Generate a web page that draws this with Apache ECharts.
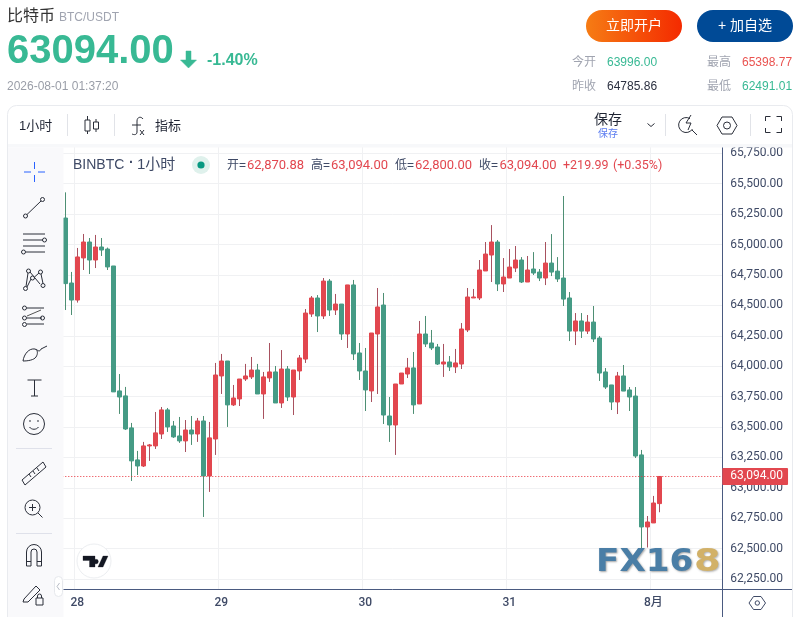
<!DOCTYPE html>
<html><head><meta charset="utf-8">
<style>html,body{margin:0;padding:0;background:#fff;overflow:hidden}#c{width:801px;height:617px}</style>
<script src="https://cdn.jsdelivr.net/npm/echarts@6/dist/echarts.min.js"></script>
</head><body><div id="c"></div>
<script>
// 100 hourly candles
const opens=[65218,64684,64544,64890,65021,64873,64980,64963,64824,63797,63756,63493,63230,63180,63345,63345,63443,63641,63509,63427,63386,63476,63443,63550,63098,63402,63920,64043,63682,63731,63895,63912,63969,63772,63904,63953,63698,63977,63747,63961,64059,64429,64561,64413,64700,64462,64511,64265,64668,64109,63961,63797,64265,64503,63591,63517,63854,63936,63986,63690,64265,64191,64158,64018,64035,63994,64018,64298,64561,64561,64783,64914,65021,64676,64725,64807,64873,64692,64799,64774,64725,64848,64782,64725,64561,64289,64372,64289,64363,64232,63953,63846,63706,63920,63805,63755,63271,62679,62712,62870.88];
const closes=[64679,64544,64898,65021,64873,64980,64955,64816,63789,63747,63484,63222,63180,63345,63353,63452,63641,63501,63419,63386,63476,63443,63550,63098,63411,63928,64043,63682,63739,63895,63920,63969,63772,63912,63953,63698,63977,63747,63969,64068,64437,64561,64413,64700,64462,64511,64265,64668,64101,63961,63805,64273,64487,63599,63517,63854,63944,63986,63682,64265,64183,64150,64018,64035,63994,64027,64306,64569,64569,64791,64922,65021,64676,64733,64815,64873,64692,64791,64766,64725,64848,64774,64717,64552,64289,64372,64289,64363,64224,63944,63829,63706,63920,63796,63747,63262,62679,62720,62876,63094];
const lows=[64462,64421,64523,64791,64758,64807,64906,64791,63789,63608,63476,63057,63106,63172,63222,63320,63402,63460,63411,63370,63295,63353,63378,62761,62967,63271,63772,63501,63673,63673,63879,63895,63772,63567,63871,63698,63657,63714,63599,63887,64027,64405,64281,64388,64413,64421,64216,64150,64051,63887,63632,63706,63772,63525,63378,63271,63854,63903,63608,63690,64158,64133,64010,63912,63961,63944,63977,64281,64561,64544,64783,64692,64618,64610,64725,64774,64684,64692,64750,64700,64667,64741,64692,64495,64207,64174,64232,64265,64199,63879,63813,63640,63607,63796,63632,63246,62491,62510,62712,62800];
const highs=[65429,64775,64972,65087,65054,65079,65054,64975,64824,63936,63830,63534,63304,63378,63361,63624,63665,63657,63550,63583,63558,63591,63575,63591,63542,64027,64101,64043,63846,63895,64019,64076,64019,63953,64191,64002,64133,64002,63969,64092,64470,64577,64585,64725,64717,64594,64511,64668,64709,64191,64150,64273,64643,64602,63747,63854,63944,64068,64117,64372,64413,64298,64183,64183,64084,64142,64355,64643,64635,64873,65021,65160,65037,64889,64963,64988,64897,64906,64938,64799,65021,65086,64897,65399,64610,64437,64437,64421,64495,64248,63985,63846,63953,64010,63829,63829,63312,62769,62934,63094];
const priceTicks=[65750,65500,65250,65000,64750,64500,64250,64000,63750,63500,63250,63000,62750,62500,62250];
const dayLabels={2:'28',26:'29',50:'30',74:'31',98:'8月'};
const lastPrice=63094;
const slots=110;
const categories=Array.from({length:slots},(_,i)=>dayLabels[i]||'');

const CJK='"Liberation Sans","Noto Sans CJK SC",sans-serif';
const RBT='Roboto,"Noto Sans CJK SC",sans-serif';
const RED='#e2474f',GREEN='#459b85',TEAL='#38b994',INK='#3f4a66';
const fmt=v=>v.toLocaleString('en-US',{minimumFractionDigits:2,maximumFractionDigits:2});
const T=(x,y,text,size,fill,fam,align)=>({type:'text',z:20,style:{x,y,text,fill,font:size+'px '+(fam||CJK),textVerticalAlign:'middle',textAlign:align||'left'}});
let iconId=0;
const P=(d,stroke,lw,fill)=>{const name='ic'+(++iconId);echarts.graphic.registerShape(name,echarts.graphic.extendPath(d,{}));return {type:name,z:20,style:{stroke:stroke||'#2a2e39',lineWidth:lw||1,fill:fill||'none'}};};
const C=(x,y,r)=>`M${x-r} ${y}A${r} ${r} 0 1 0 ${x+r} ${y}A${r} ${r} 0 1 0 ${x-r} ${y}Z`;
const R=(x,y,w,h,fill,r,stroke)=>({type:'rect',z:19,shape:{x,y,width:w,height:h,r:r||0},style:{fill:fill||'none',stroke:stroke||null,lineWidth:1}});
const L=(x1,y1,x2,y2,c)=>({type:'line',z:20,shape:{x1,y1,x2,y2},style:{stroke:c,lineWidth:1}});
const G=echarts.graphic.LinearGradient;

const ink='#2a2e39';
const chrome=[
 // panels
 R(7.5,105.5,785,540,'none',9,'#e9ebef'),
 R(8,144,784,3.5,'#f7f8fa'),
 R(8,147.5,55.5,469.5,'#f9f9fb'),
 // header
 T(7,17,'比特币',16,'#333'),
 T(59,18,'BTC/USDT',12,'#a0a4b0'),
 T(7,52,'63094.00','bold 40',TEAL),
 P('M186 51h5v9h5.5l-8 8-8-8h5.5z',TEAL,0.5,TEAL),
 T(207,61,'-1.40%','bold 16',TEAL),
 T(7,87,'2026-08-01 01:37:20',12,'#9a9ea8'),
 {type:'rect',z:19,shape:{x:586,y:10,width:96,height:32,r:16},style:{fill:new G(0,0,1,0,[{offset:0,color:'#f67c14'},{offset:1,color:'#f42a00'}])}},
 T(634,26,'立即开户',14,'#fff',CJK,'center'),
 R(697,10,96,32,'#004a96',16),
 T(745,26,'+ 加自选',14,'#fff',CJK,'center'),
 T(572,63,'今开',12,'#a0a4b0'),T(607,63,'63996.00',12,TEAL),
 T(707,63,'最高',12,'#a0a4b0'),T(742,63,'65398.77',12,'#ea5350'),
 T(572,87,'昨收',12,'#a0a4b0'),T(607,87,'64785.86',12,'#2b3040'),
 T(707,87,'最低',12,'#a0a4b0'),T(742,87,'62491.01',12,TEAL),
 // toolbar
 T(19,126,'1小时',13,'#1f2433'),
 L(67.5,114,67.5,136,'#e1e3e8'),
 P('M87.5 116v4M87.5 131v3M85 120h5v11h-5zM96 119v3M96 129v3M93.5 122h5v7h-5z',ink),
 L(114.5,114,114.5,136,'#e1e3e8'),
 P('M143 119c-2-3-6-2-6 2v11c0 3-3 3-5 2M132 125h9M140 130l4 5M144 130l-4 5',ink),
 T(155,126,'指标',13,'#1f2433'),
 T(608,120,'保存',14,'#1f2433',CJK,'center'),
 T(608,134,'保存',10,'#5b7cf0',CJK,'center'),
 P('M647.5 123.5l3.5 3 3.5-3',ink),
 L(665.5,114,665.5,136,'#e1e3e8'),
 P('M690 118.6A7.5 7.5 0 1 0 692.5 129M691 115l-5 8h5l-3 7M692 130l5 5',ink),
 P('M717 125.5l5-8.5h10l5 8.5-5 8.5h-10zM730.5 125.5a3.5 3.5 0 1 1-7 0a3.5 3.5 0 1 1 7 0',ink),
 L(750.5,114,750.5,136,'#e1e3e8'),
 P('M765.5 121v-4.5h5M776.5 116.5h5v4.5M781.5 128v4.5h-5M770.5 132.5h-5v-4.5',ink),
 // left tools
 P('M34.5 162v7M34.5 175v7M24 172h7M38 172h7','#2962ff'),
 P(C(25.5,216,2)+C(42.5,199.5,2)+'M27 214.5L41 201',ink),
 P('M23 234h22M23 240h20M23 246h22M26 252h19'+C(44.5,240,2)+C(23.5,252,2),ink),
 P(C(25.5,288.5,2)+C(28.5,271,2)+C(32.5,278,2)+C(40.5,272,2)+C(43,285.5,2)+'M26 286.5L28 273M30 272L40 284M27 287L31 279M34.5 277L39 273M41 274L43 283.5',ink),
 P(C(24.5,308,2)+'M27 308h17M27 318h15'+C(24.5,318,2)+C(42.5,318,2)+'M27 324h17'+C(24.5,324.5,2),ink),
 P('M27 316l14-6','#555'),
 P('M23 361c1-7 6-13 12-12 3 1 3 5 1 8-2 3-8 4-13 4zM36 349c2 2 4 3 5 0l6-3',ink),
 P('M27.5 380h14M34.5 380v16M31 396h7',ink),
 P(C(34,424,10.5)+C(30,421,.4)+C(38,421,.4)+'M29.5 427c2 3 7 3 9 0',ink),
 L(16,448.5,52,448.5,'#dfe1ea'),
 P('M22 480l21-18 3 5-21 18zM29 474l2 3M33 471l2 3M37 468l2 3',ink),
 P(C(32.5,507.5,7.5)+'M38 513l4.5 4.5M29 507.5h7M32.5 504v7',ink),
 L(16,533.5,52,533.5,'#dfe1ea'),
 P('M26.5 566v-14a7.5 7.5 0 0 1 15 0v14h-4.5v-14a3 3 0 0 0-6 0v14zM26.5 561.5h4.5M37 561.5h4.5',ink),
 P('M24 599l12-13 4 4-12 12h-5zM36 598h7v7h-7zM37.5 598v-2a2 2 0 0 1 4 0v2',ink),
 // collapse tab
 R(54.5,576.5,8,20,'#fff',4,'#e6e8ec'),
 P('M59.5 583l-2.5 3.5 2.5 3.5','#b8bcc6'),
 // axes corners
 L(722,589.5,792,589.5,'#4a5a80'),
 L(722.5,589.5,722.5,617,'#4a5a80'),
 P('M749 603l4.5-6.5h7.5l4.5 6.5-4.5 6.5h-7.5zM759.5 603a2.2 2.2 0 1 1-4.4 0a2.2 2.2 0 1 1 4.4 0','#3f4a66'),
 // legend
 T(73,165,'BINBTC',14,INK),T(129,163,'·','bold 14',INK),T(137,165,'1小时',15,INK),
 {type:'circle',z:20,shape:{cx:201,cy:165,r:9},style:{fill:'#dff1ec'}},
 {type:'circle',z:21,shape:{cx:201,cy:165,r:3.6},style:{fill:'#089981'}},
 T(227,166,'开=',12,INK),T(247,166,fmt(62870.88),13,RED,RBT),
 T(311,166,'高=',12,INK),T(331,166,fmt(63094),13,RED,RBT),
 T(395,166,'低=',12,INK),T(415,166,fmt(62800),13,RED,RBT),
 T(479,166,'收=',12,INK),T(499.5,166,fmt(63094),13,RED,RBT),
 T(563,166,'+219.99',12.5,RED,RBT),T(613,166,'(+0.35%)',12.5,RED,RBT),
 // TV badge
 {type:'circle',z:20,shape:{cx:94,cy:561,r:17},style:{fill:'#fff',stroke:'#eceef1'}},
 P('M83 556h12v11h-5.5v-6.5H83zM96 564a2.4 2.4 0 1 1 .01 0zM103 556h5l-5 11h-5z','#131722',0.3,'#131722'),
 // watermark
 {type:'text',z:30,x:596,y:562.5,scaleX:1.07,style:{x:0,y:0,text:'FX16',font:'bold 32px "DejaVu Sans"',textVerticalAlign:'middle',fill:'#4a7ea6',textShadowColor:'rgba(0,0,0,.35)',textShadowBlur:2,textShadowOffsetX:1,textShadowOffsetY:1}},
 {type:'text',z:30,x:694,y:562.5,scaleX:1.2,style:{x:0,y:0,text:'8',font:'bold 32px "DejaVu Sans"',textVerticalAlign:'middle',fill:'#d2b168',textShadowColor:'rgba(0,0,0,.3)',textShadowBlur:2,textShadowOffsetX:1,textShadowOffsetY:1}},
];

const ohlc=opens.map((o,i)=>[o,closes[i],lows[i],highs[i]]);
const bodies=opens.map((o,i)=>[o,closes[i],Math.min(o,closes[i]),Math.max(o,closes[i])]);
const gridColor='#f0f1f3';
const chart=echarts.init(document.getElementById('c'));
chart.setOption({
 animation:false,
 backgroundColor:'#fff',
 grid:{left:62.3,top:146,width:660,height:443.5,containLabel:false},
 xAxis:{type:'category',data:categories,boundaryGap:true,
  axisLine:{lineStyle:{color:'#4a5a80'},onZero:false},
  axisTick:{show:false},
  axisLabel:{interval:(i)=>!!dayLabels[i],color:INK,fontSize:12,fontFamily:RBT,margin:7,fontWeight:500,hideOverlap:false},
  splitLine:{show:true,interval:(i)=>!!dayLabels[i],lineStyle:{color:gridColor,width:1}}},
 yAxis:{type:'value',position:'right',min:62165,max:65810,scale:true,
  axisLine:{show:true,lineStyle:{color:'#4a5a80'}},
  axisTick:{show:false,customValues:priceTicks},
  axisLabel:{customValues:priceTicks,formatter:fmt,color:INK,fontSize:12,fontFamily:RBT,margin:8,padding:[0,0,1,0],hideOverlap:false},
  splitLine:{show:true,lineStyle:{color:gridColor,width:1}}},
 series:[
  {type:'candlestick',name:'wicks',data:ohlc,barWidth:1,z:3,
   itemStyle:{color:'#a8515f',color0:'#4e8f74',borderColor:'#a8515f',borderColor0:'#4e8f74',borderWidth:1},
   markLine:{symbol:'none',silent:true,z:5,animation:false,
    data:[{yAxis:lastPrice}],
    lineStyle:{color:'#e8303a',type:[1,2],width:1},
    label:{position:'end',distance:0,formatter:()=>fmt(lastPrice),color:'#fff',backgroundColor:RED,fontSize:12,fontFamily:RBT,padding:[3,5,2,8],borderRadius:1}}},
  {type:'candlestick',name:'bodies',data:bodies,barWidth:4,z:4,
   itemStyle:{color:RED,color0:GREEN,borderColor:RED,borderColor0:GREEN,borderWidth:1}}
 ],
 graphic:{elements:chrome}
});
</script></body></html>
